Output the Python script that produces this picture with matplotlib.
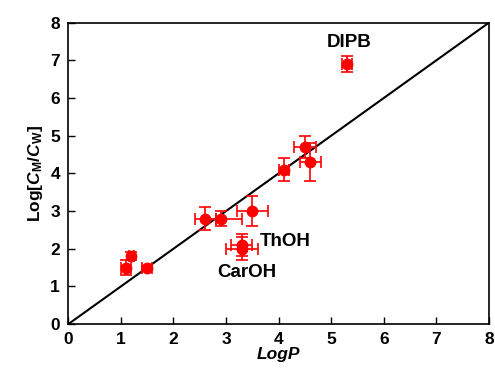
import matplotlib
matplotlib.use("Agg")
import matplotlib.pyplot as plt
import numpy as np

plt.rcParams['font.family'] = ['Liberation Sans', 'DejaVu Sans']
plt.rcParams['font.weight'] = 'bold'
plt.rcParams['mathtext.fontset'] = 'custom'
plt.rcParams['mathtext.rm'] = 'Liberation Sans:weight=bold'
plt.rcParams['mathtext.it'] = 'Liberation Sans:style=italic:weight=bold'
plt.rcParams['mathtext.bf'] = 'Liberation Sans:weight=bold'

logP = [1.1, 1.2, 1.5, 2.6, 2.9, 3.5, 3.3, 3.3, 4.1, 4.5, 4.6, 5.3]
logC = [1.5, 1.8, 1.5, 2.8, 2.8, 3.0, 2.1, 2.0, 4.1, 4.7, 4.3, 6.9]
xerr_lo = [0.1, 0.05, 0.1, 0.2, 0.1, 0.3, 0.2, 0.3, 0.1, 0.2, 0.2, 0.1]
xerr_hi = [0.1, 0.05, 0.1, 0.2, 0.4, 0.3, 0.2, 0.3, 0.1, 0.2, 0.2, 0.1]
yerr = [0.2, 0.1, 0.05, 0.3, 0.2, 0.4, 0.3, 0.3, 0.3, 0.3, 0.5, 0.2]

labels = ['DIPB', 'ThOH', 'CarOH']
label_x = [5.34, 4.12, 3.40]
label_y = [7.46, 2.18, 1.36]

ticks = list(range(0, 9))
tick_labels = [str(t) for t in ticks]

fig = plt.figure(figsize=(4.95, 3.76), dpi=100)
ax = fig.add_axes([0.138, 0.138, 0.850, 0.802])

ax.plot([0, 8], [0, 8], color='black', lw=1.5, zorder=2)
ax.errorbar(logP, logC, xerr=[xerr_lo, xerr_hi], yerr=yerr, fmt='o',
            color='red', ecolor='red', elinewidth=1.2, capsize=4, capthick=1.2,
            markersize=7.5, zorder=3)

for t, x, y in zip(labels, label_x, label_y):
    ax.text(x, y, t, ha='center', va='center', fontsize=13.5, fontweight='bold')

ax.set_xlim(0, 8)
ax.set_ylim(0, 8)
ax.set_xticks(ticks)
ax.set_yticks(ticks)
ax.set_xticklabels(tick_labels, fontsize=12.5, fontweight='bold')
ax.set_yticklabels(tick_labels, fontsize=12.5, fontweight='bold')
ax.tick_params(direction='in', length=5, width=1, pad=6,
               top=False, right=False)
for s in ax.spines.values():
    s.set_linewidth(1.2)

ax.set_xlabel('LogP', fontsize=12.5, fontweight='bold', style='italic', labelpad=0)
ax.set_ylabel(r'Log[$\mathit{C}_{\mathrm{M}}$/$\mathit{C}_{\mathrm{W}}$]',
              fontsize=12.5, fontweight='bold', labelpad=4)

fig.savefig('out.png', dpi=100)
